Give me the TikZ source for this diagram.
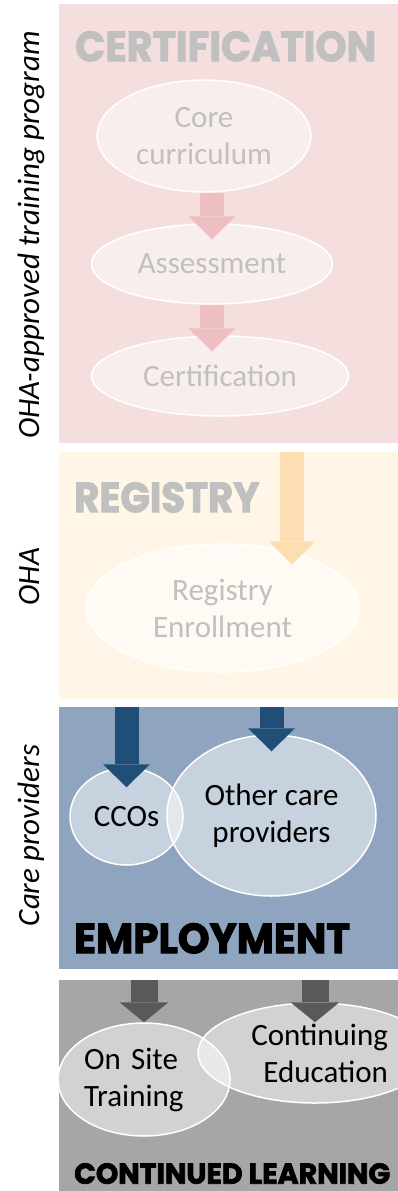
\documentclass[tikz,border=0pt]{standalone}
\usepackage{fontspec}
\usepackage{graphicx}
\setmainfont{Carlito}
\newfontfamily\titlefont{Poppins}[BoldFeatures={FakeBold=2.5}]
\usetikzlibrary{shapes.geometric,arrows.meta,calc}

\definecolor{certbg}{RGB}{244,222,222}
\definecolor{certarrow}{RGB}{238,191,192}
\definecolor{regbg}{RGB}{255,246,232}
\definecolor{regarrow}{RGB}{253,222,179}
\definecolor{empbg}{RGB}{143,165,191}
\definecolor{emparrow}{RGB}{31,78,121}
\definecolor{learnbg}{RGB}{166,166,166}
\definecolor{learnarrow}{RGB}{89,89,89}
\definecolor{fadedtext}{RGB}{192,192,192}

\begin{document}
\begin{tikzpicture}[x=1pt, y=-1pt,
  panel/.style={anchor=north west, inner sep=0pt, minimum width=339pt},
  heading/.style={anchor=north west, inner sep=0pt},
  bubble/.style={ellipse, draw=white, line width=1.5pt, fill=white, fill opacity=0.5, text opacity=1,
    inner sep=0pt, align=center, font=\fontsize{31}{37}\selectfont},
  side/.style={rotate=90, anchor=base, inner sep=0pt, font=\fontsize{31}{37}\selectfont\itshape},
  blockarrow/.style={line width=24pt, -{Triangle[length=23pt, width=47pt, line width=0pt]}},
  widearrow/.style={line width=27pt, learnarrow, -{Triangle[length=20pt, width=49pt, line width=0pt]}},
]
\useasboundingbox (0,0) rectangle (398,1191);

\node[panel, fill=certbg, minimum height=439pt] (certpanel) at (59,4) {};
\node[panel, fill=regbg, minimum height=247pt] (regpanel) at (59,452) {};
\node[panel, fill=empbg, minimum height=262pt] (emppanel) at (59,707) {};
\node[panel, fill=learnbg, minimum height=211pt] (learnpanel) at (59,980) {};

\node[heading, text=fadedtext] (certtitle) at (75,31) {\resizebox{301pt}{30pt}{\titlefont\bfseries CERTIFICATION}};
\node[heading, text=fadedtext] (regtitle) at (74,482) {\resizebox{185pt}{30pt}{\titlefont\bfseries REGISTRY}};
\node[heading] (emptitle) at (74,923) {\resizebox{276pt}{30pt}{\titlefont\bfseries EMPLOYMENT}};
\node[heading] (learntitle) at (74,1163) {\resizebox{316pt}{20.5pt}{\titlefont\bfseries CONTINUED LEARNING}};

\node[bubble, text=fadedtext, minimum width=214pt, minimum height=112pt] (core) at (204,136) {Core\\curriculum};
\node[bubble, text=fadedtext, minimum width=241pt, minimum height=80pt] (assess) at (212,264) {Assessment};
\node[bubble, text=fadedtext, minimum width=257pt, minimum height=80pt] (certif) at (220,376) {Certification};
\node[bubble, text=fadedtext, minimum width=273pt, minimum height=128pt] (enroll) at (222.5,608) {Registry\\Enrollment};
\node[bubble, minimum width=113pt, minimum height=97pt] (cco) at (126.5,816.5) {CCOs};
\node[bubble, minimum width=209pt, minimum height=161pt] (other) at (271.5,815.5) {Other care\\providers};
\node[bubble, minimum width=172pt, minimum height=113pt, text width=120pt, align=left] (onsite) at (144,1079.5) {On Site\\Training};
\node[bubble, minimum width=234pt, minimum height=100pt, text width=146pt, align=right] (conted) at (315,1053) {Continuing\\Education};

\draw[blockarrow, certarrow] (core.south -| assess) -- ($(assess.north)+(0,16)$);
\draw[blockarrow, certarrow] (assess.south) -- ($(assess.south |- certif.north)+(0,16)$);
\coordinate (regin) at (292,452);
\draw[blockarrow, regarrow] (regin) -- ($(regin |- enroll.north)+(0,21)$);
\draw[blockarrow, emparrow] (cco |- emppanel.north) -- ($(cco.north)+(0,20)$);
\draw[blockarrow, emparrow] (other |- emppanel.north) -- ($(other.north)+(0,17)$);
\draw[widearrow] (onsite |- learnpanel.north) -- (onsite.north);
\draw[widearrow] (conted |- learnpanel.north) -- ($(conted.north)+(0,20)$);

\node[side] (certside) at (39,235) {OHA-approved training program};
\node[side] (regside) at (39,576.5) {OHA};
\node[side] (empside) at (39,835.5) {Care providers};
\end{tikzpicture}
\end{document}
